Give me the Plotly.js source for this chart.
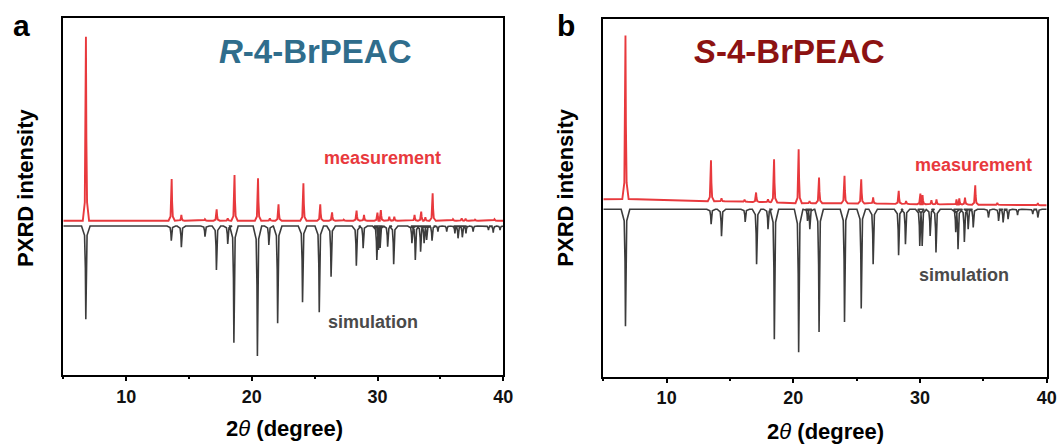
<!DOCTYPE html>
<html><head><meta charset="utf-8">
<script src="https://cdn.plot.ly/plotly-3.0.1.min.js"></script>
<style>html,body{margin:0;padding:0;background:#fff}</style>
</head><body><div id="chart" style="width:1061px;height:445px"></div>
<script>
// ---- Panel a: R-4-BrPEAC ----
const measA_pos = [6.8, 13.62, 14.39, 16.27, 17.2, 18.08, 18.62, 20.49, 21.43, 22.12, 24.1, 25.44, 26.38, 27.3, 28.33, 28.92, 29.99, 30.26, 30.93, 31.33, 32.94, 33.47, 33.8, 34.38, 36.0, 36.69, 37.0, 37.75, 39.3];
const measA_int = [184, 41.7, 5.7, 1.5, 11.3, 2.5, 45.7, 42.4, 2.4, 16.4, 37.4, 16.4, 8.4, 1, 10, 5.7, 8, 10.7, 4, 4, 5.7, 9, 3.5, 27.4, 1.5, 2.5, 2, 1, 1.5];
const measA_base = 154.3;

const simA_pos = [6.79, 13.59, 14.39, 16.27, 17.18, 18.08, 18.57, 20.44, 21.35, 22.05, 24.03, 25.36, 26.3, 28.31, 28.85, 29.94, 30.07, 30.2, 30.8, 31.28, 32.73, 33.0, 33.42, 33.7, 33.9, 34.33, 34.8, 35.5, 36.15, 36.4, 36.74, 37.03, 37.6, 38.82, 39.2, 39.74];
const simA_int = [93.3, 14.7, 21.3, 10.7, 44, 18, 116.7, 130, 19, 97.3, 76.3, 86.3, 50.7, 39.7, 22.3, 34, 24, 22, 20.7, 38.3, 17.3, 34, 25.7, 17.3, 14, 14.7, 5.7, 5.7, 7.3, 12.3, 11.3, 7.3, 5.7, 4, 6.7, 4];
const simA_base = 149;

// ---- Panel b: S-4-BrPEAC ----
const measB_pos = [6.75, 13.5, 14.33, 16.15, 17.06, 18.0, 18.48, 20.42, 21.28, 22.03, 24.04, 25.36, 26.3, 28.32, 28.9, 30.03, 30.2, 30.9, 31.3, 32.88, 33.1, 33.55, 34.36, 36.1, 39.3];
const measB_int = [163.5, 41, 3, 2, 9.5, 3, 43.3, 54, 2, 25.7, 27.3, 24.3, 6, 13, 3, 10.7, 9, 4, 5, 5, 6, 7, 19.5, 2, 2];
const measB_base = [177.5, 175.3, 175.2, 174.8, 174.5, 174.3, 174, 173.3, 173.3, 173.3, 173.3, 173, 173, 172.6, 172.5, 172.3, 172.3, 172.2, 172.1, 172, 172, 172, 171.8, 171.6, 171.3];
const measB_ends = [177.3, 171.3];

const simB_pos = [6.75, 13.51, 14.33, 16.2, 17.1, 18.0, 18.5, 20.42, 21.12, 21.3, 22.03, 24.04, 25.36, 26.3, 28.31, 28.85, 29.98, 30.17, 30.8, 31.26, 32.82, 33.0, 33.5, 33.8, 34.2, 35.4, 36.2, 36.56, 36.95, 37.7, 38.9, 39.3];
const simB_int = [117, 15, 27, 12.7, 55, 20, 130, 143, 11.7, 20, 122.7, 112.7, 99.3, 55, 46, 35, 36.7, 36.7, 26.7, 43.3, 23, 40, 32.7, 20, 18.3, 8.3, 11.7, 13.3, 10, 6, 5, 8.3];
const simB_base = 167.3;

const xTicks = [10, 20, 30, 40];
const xRange = [5, 40];

// Build a stick-pattern polyline from the peak list
function pattern(pos, inten, base, sign, ends, shape) {
  const b0 = ends ? ends[0] : base, b1 = ends ? ends[1] : base;
  const xs = [xRange[0]], ys = [b0];
  for (let i = 0; i < pos.length; i++) {
    const b = Array.isArray(base) ? base[i] : base;
    const H = sign * inten[i], p = pos[i];
    xs.push(p - shape.foot, p - shape.sh, p - shape.sh2, p, p + shape.sh2, p + shape.sh, p + shape.foot);
    ys.push(b, b + shape.f1 * H, b + shape.f2 * H, b + H, b + shape.f2 * H, b + shape.f1 * H, b);
  }
  xs.push(xRange[1]); ys.push(b1);
  return {x: xs, y: ys};
}
const measShape = {foot: 0.25, sh: 0.09, sh2: 0.035, f1: 0.1, f2: 0.45};
const simShape = {foot: 0.34, sh: 0.1, sh2: 0.035, f1: 0.1, f2: 0.45};

const RED = '#e8393d', GRAY = '#3c3c3c';
const mA = pattern(measA_pos, measA_int, measA_base, 1, null, measShape);
const sA = pattern(simA_pos, simA_int, simA_base, -1, null, simShape);
const mB = pattern(measB_pos, measB_int, measB_base, 1, measB_ends, measShape);
const sB = pattern(simB_pos, simB_int, simB_base, -1, null, simShape);

const traces = [
  {x: mA.x, y: mA.y, xaxis: 'x', yaxis: 'y', mode: 'lines', line: {color: RED, width: 1.9}, name: 'measurement'},
  {x: sA.x, y: sA.y, xaxis: 'x', yaxis: 'y', mode: 'lines', line: {color: GRAY, width: 1.6}, name: 'simulation'},
  {x: mB.x, y: mB.y, xaxis: 'x2', yaxis: 'y2', mode: 'lines', line: {color: RED, width: 1.9}, name: 'measurement'},
  {x: sB.x, y: sB.y, xaxis: 'x2', yaxis: 'y2', mode: 'lines', line: {color: GRAY, width: 1.6}, name: 'simulation'}
];

const W = 1061, Hh = 445;
const FONT = 'Liberation Sans, Arial, Helvetica, sans-serif';
function xa(d1, d2) {
  return {domain: [d1 / W, d2 / W], range: xRange, tickvals: xTicks, ticks: 'outside', ticklen: 4, tickwidth: 2,
    tickcolor: '#000', showline: true, linewidth: 2, linecolor: '#000', mirror: true, showgrid: false, zeroline: false,
    tickfont: {family: FONT, size: 18, color: '#111', weight: 'bold'},
    minor: {dtick: 5, tick0: 5, ticks: 'outside', ticklen: 2, tickwidth: 2, tickcolor: '#000', showgrid: false}};
}
function ya(top, bot, h) {
  return {domain: [1 - bot / Hh, 1 - top / Hh], range: [0, h], showticklabels: false, ticks: '',
    showline: true, linewidth: 2, linecolor: '#000', mirror: true, showgrid: false, zeroline: false};
}
function ann(text, px, py, size, color, extra) {
  return Object.assign({text: text, x: px / W, y: 1 - py / Hh, xref: 'paper', yref: 'paper', showarrow: false,
    xanchor: 'center', yanchor: 'middle', font: {family: FONT, size: size, color: color, weight: 'bold'}}, extra || {});
}
const XT = '2<span style="font-weight:normal"><i>θ</i></span> (degree)';

const layout = {
  width: W, height: Hh, margin: {l: 0, r: 0, t: 0, b: 0}, paper_bgcolor: '#fff', plot_bgcolor: '#fff', showlegend: false,
  xaxis: xa(63.3, 503.3), yaxis: ya(18.3, 375, 356.7),
  xaxis2: Object.assign(xa(603.3, 1046.7), {anchor: 'y2'}), yaxis2: Object.assign(ya(19.3, 376.5, 357.2), {anchor: 'x2'}),
  annotations: [
    ann('a', 21, 25.6, 30, '#000'),
    ann('b', 566, 25.6, 30, '#000'),
    ann('<i>R</i>-4-BrPEAC', 315.5, 51.3, 33, '#2f6d8c'),
    ann('<i>S</i>-4-BrPEAC', 789.5, 51.3, 33, '#8c1212'),
    ann('measurement', 382, 157.8, 18, '#e8393d'),
    ann('simulation', 373, 322, 18, '#4a4a4a'),
    ann('measurement', 973.5, 165.5, 18, '#e8393d'),
    ann('simulation', 964, 274.5, 18, '#4a4a4a'),
    ann('PXRD intensity', 25.4, 187.5, 22, '#000', {textangle: -90}),
    ann('PXRD intensity', 565.7, 188, 22, '#000', {textangle: -90}),
    ann(XT, 284, 428, 22, '#000'),
    ann(XT, 825, 431, 22, '#000')
  ]
};
Plotly.newPlot('chart', traces, layout, {staticPlot: true, displayModeBar: false});
</script>
</body></html>
